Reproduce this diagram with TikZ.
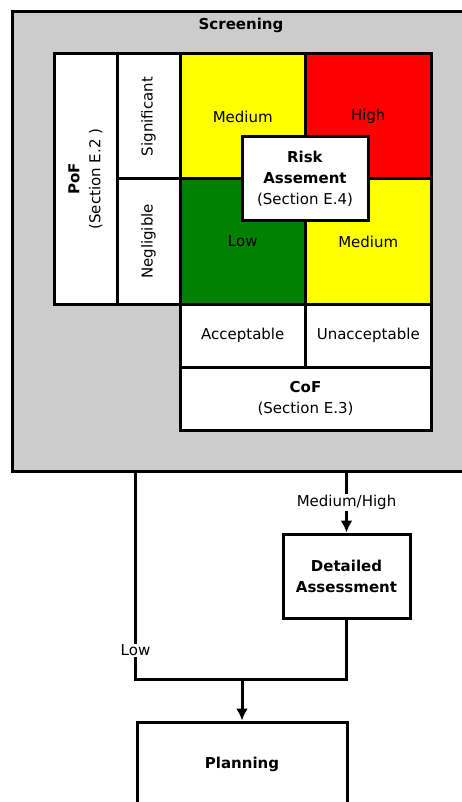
\documentclass[tikz,border=0pt]{standalone}
\usepackage{fontspec}
\setmainfont{DejaVu Sans}
\usetikzlibrary{arrows.meta,positioning}
\tikzset{>={Latex[length=12pt,width=12pt]}}
\definecolor{riskyellow}{RGB}{255,255,0}
\definecolor{riskred}{RGB}{255,0,0}
\definecolor{riskgreen}{RGB}{0,128,0}
\definecolor{screengray}{RGB}{204,204,204}

\begin{document}
\begin{tikzpicture}[x=1pt, y=-1pt, line width=3pt,
	font=\fontsize{15}{21}\selectfont,
	box/.style={draw=black, fill=white, inner sep=0pt, align=center},
	cell/.style={box, minimum width=125.5pt, minimum height=125pt},
	lowcell/.style={box, minimum width=125.5pt, minimum height=63pt},
	sidecell/.style={box, minimum width=125pt, minimum height=63pt, rotate=90}]

	\clip (0,0) rectangle (462,802);

	\node (screening) [box, fill=screengray, minimum width=463pt, minimum height=459pt] at (243.5,241.5) {};
	\node (screening-title) at (241,25) {\textbf{Screening}};

		% probability side
		\node (pof) [box, minimum width=250pt, minimum height=63pt, rotate=90] at (85.5,179) {\textbf{PoF}\\(Section E.2 )};
		\node (significant) [sidecell] at (148.5,116.5) {Significant};
		\node (negligible) [sidecell] at (148.5,241.5) {Negligible};

		% risk matrix
		\node (medium-sig) [cell, fill=riskyellow] at (242.75,116.5) {Medium};
		\node (high) [cell, fill=riskred] at (368.25,116.5) {High};
		\node (low) [cell, fill=riskgreen] at (242.75,241.5) {Low};
		\node (medium-neg) [cell, fill=riskyellow] at (368.25,241.5) {Medium};

		% consequence side
		\node (acceptable) [lowcell] at (242.75,335.5) {Acceptable};
		\node (unacceptable) [lowcell] at (368.25,335.5) {Unacceptable};
		\node (cof) [box, minimum width=251pt, minimum height=63pt] at (305.5,398.5) {\textbf{CoF}\\(Section E.3)};

		\node (risk) [box, minimum width=126pt, minimum height=84pt] at (305,179) {\textbf{Risk}\\\textbf{Assement}\\(Section E.4)};

	\node (detailed) [box, minimum width=127pt, minimum height=84pt] at (346.5,576) {\textbf{Detailed}\\\textbf{Assessment}};
	\node (planning) [box, minimum width=210pt, minimum height=84pt] at (242,764) {\textbf{Planning}};

	\coordinate (merge) at (242,679);

	\draw[->] (detailed |- screening.south) -- node[fill=white, inner sep=1pt] {Medium/High} (detailed);
	\draw (planning.west |- screening.south) -- node[pos=0.86, fill=white, inner sep=1pt] {Low} (planning.west |- merge) -- (detailed |- merge) -- (detailed);
	\draw[->] (merge) -- (planning);

\end{tikzpicture}
\end{document}
